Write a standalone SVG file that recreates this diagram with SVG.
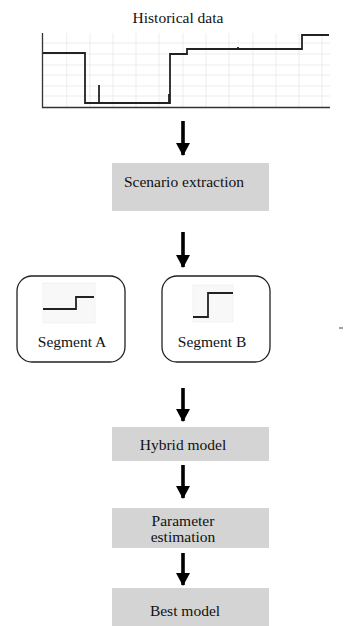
<svg xmlns="http://www.w3.org/2000/svg" width="344" height="626" viewBox="0 0 344 626">
  <defs>
    <style>
      text { font-family: "Liberation Serif", "Times New Roman", serif; font-size: 15.5px; fill: #111; text-anchor: middle; }
      .grid { stroke: #e8e8e8; stroke-width: 0.8; fill: none; }
      .axis { stroke: #333; stroke-width: 1.3; fill: none; }
      .trace { stroke: #222; stroke-width: 1.8; fill: none; stroke-linejoin: miter; }
      .step { fill: #d4d4d4; }
      .seg { fill: #fff; stroke: #222; stroke-width: 1.3; }
      .mini { fill: #f8f8f8; stroke: #ececec; stroke-width: 0.6; }
      .shaft { stroke: #000; stroke-width: 3.6; }
    </style>
    <!-- solid triangular head, tip sits on the line end -->
    <marker id="head" viewBox="0 0 13 14" refX="12" refY="7" markerWidth="13" markerHeight="14" markerUnits="userSpaceOnUse" orient="auto">
      <path d="M0,0 L13,7 L0,14 Z" fill="#000"/>
    </marker>
  </defs>

  <!-- historical series -->
  <g id="historical">
    <text x="178" y="23">Historical data</text>
    <g class="grid">
      <path d="M66.7,33V107 M90,33V107 M113,33V107 M136,33V107 M159,33V107 M183,33V107 M206,33V107 M229,33V107 M253,33V107 M276,33V107 M299,33V107 M322,33V107"/>
      <path d="M43,43H330 M43,54H330 M43,65H330 M43,75H330 M43,86H330 M43,96H330"/>
    </g>
    <path class="axis" d="M42.5,33V107.5H330"/>
    <path class="trace" d="M43,53H85V103H170V54H187V49H302V35H329"/>
    <path class="trace" d="M99,103V85"/>
    <path class="trace" d="M169,103V94"/>
    <path class="trace" d="M238,49V47"/>
  </g>

  <g id="connectors">
    <line class="shaft" x1="183" y1="121" x2="183" y2="155" marker-end="url(#head)"/>
    <line class="shaft" x1="183" y1="232" x2="183" y2="267" marker-end="url(#head)"/>
    <line class="shaft" x1="183" y1="388" x2="183" y2="421" marker-end="url(#head)"/>
    <line class="shaft" x1="183" y1="465" x2="183" y2="498" marker-end="url(#head)"/>
    <line class="shaft" x1="183" y1="553" x2="183" y2="585" marker-end="url(#head)"/>
  </g>

  <g id="scenario-extraction">
    <rect class="step" x="112" y="163" width="157" height="48"/>
    <text x="184" y="187">Scenario extraction</text>
  </g>

  <g id="segment-a">
    <rect class="seg" x="17" y="276" width="108" height="86" rx="15"/>
    <rect class="mini" x="43" y="283" width="52" height="40"/>
    <path class="trace" d="M43,309H76V297H94"/>
    <text x="72" y="347">Segment A</text>
  </g>

  <g id="segment-b">
    <rect class="seg" x="162" y="276" width="108" height="86" rx="15"/>
    <rect class="mini" x="193" y="285" width="40" height="37"/>
    <path class="trace" d="M193,317H208V293H233"/>
    <text x="212" y="347">Segment B</text>
  </g>

  <line x1="339" y1="328" x2="343" y2="328" stroke="#444" stroke-width="1"/>

  <g id="hybrid-model">
    <rect class="step" x="112" y="427" width="157" height="34"/>
    <text x="183" y="450">Hybrid model</text>
  </g>

  <g id="parameter-estimation">
    <rect class="step" x="112" y="508" width="157" height="40"/>
    <text x="183" y="526">Parameter</text>
    <text x="183" y="542">estimation</text>
  </g>

  <g id="best-model">
    <rect class="step" x="112" y="588" width="157" height="38"/>
    <text x="185" y="616">Best model</text>
  </g>
</svg>
